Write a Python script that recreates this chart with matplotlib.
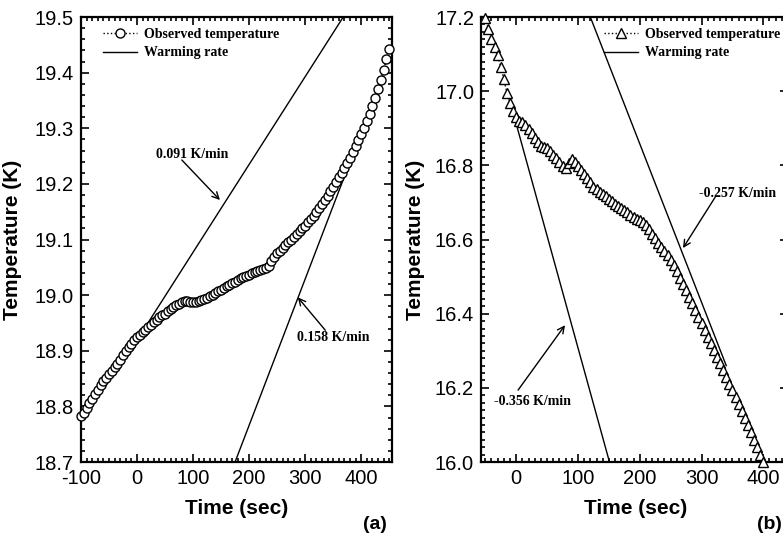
import numpy as np
import matplotlib
matplotlib.use('Agg')
import matplotlib.pyplot as plt
from matplotlib.ticker import MultipleLocator, FormatStrFormatter

plt.rcParams['font.family'] = 'Liberation Sans'
plt.rcParams['axes.unicode_minus'] = False

# ---------------------------------------------------------------------------
# data
# ---------------------------------------------------------------------------
# (a) warming run, one sample every 5 s from -100 s to 450 s
time_a = np.arange(-100, 455, 5)
temp_a = [
    18.782, 18.789, 18.797, 18.806, 18.814, 18.822, 18.830, 18.838, 18.845, 18.851,
    18.858, 18.864, 18.870, 18.877, 18.884, 18.892, 18.900, 18.907, 18.913, 18.919,
    18.924, 18.929, 18.933, 18.938, 18.942, 18.947, 18.951, 18.956, 18.960, 18.964,
    18.967, 18.971, 18.975, 18.979, 18.982, 18.985, 18.988, 18.989, 18.989, 18.988,
    18.987, 18.988, 18.989, 18.991, 18.993, 18.995, 18.998, 19.001, 19.004, 19.007,
    19.010, 19.013, 19.016, 19.018, 19.021, 19.024, 19.027, 19.030, 19.033, 19.035,
    19.037, 19.039, 19.041, 19.043, 19.045, 19.047, 19.049, 19.052, 19.062, 19.069,
    19.075, 19.080, 19.085, 19.090, 19.095, 19.100, 19.105, 19.110, 19.115, 19.120,
    19.125, 19.131, 19.137, 19.143, 19.150, 19.157, 19.164, 19.171, 19.179, 19.187,
    19.195, 19.204, 19.212, 19.220, 19.228, 19.237, 19.247, 19.257, 19.268, 19.279,
    19.290, 19.301, 19.313, 19.326, 19.340, 19.355, 19.370, 19.387, 19.405, 19.424,
    19.443,
]
# rate lines (end points) and their labels
rate_a1_t = [10, 368]
rate_a1_T = [18.935, 19.50]
rate_a2_t = [175, 375]
rate_a2_T = [18.70, 19.226]
label_a1 = '0.091 K/min'
label_a2 = '0.158 K/min'

# (b) cooling run, one sample every 5 s from -50 s to 400 s
time_b = np.arange(-50, 405, 5)
temp_b = [
    17.197, 17.168, 17.142, 17.118, 17.098, 17.065, 17.032, 16.995, 16.968, 16.946,
    16.930, 16.921, 16.916, 16.908, 16.898, 16.887, 16.875, 16.862, 16.853, 16.849,
    16.846, 16.838, 16.828, 16.819, 16.809, 16.798, 16.793, 16.806, 16.817, 16.809,
    16.799, 16.787, 16.776, 16.766, 16.754, 16.743, 16.736, 16.729, 16.723, 16.717,
    16.710, 16.703, 16.697, 16.691, 16.685, 16.679, 16.673, 16.667, 16.661, 16.656,
    16.652, 16.646, 16.638, 16.628, 16.616, 16.604, 16.592, 16.580, 16.569, 16.558,
    16.545, 16.530, 16.514, 16.497, 16.480, 16.463, 16.446, 16.428, 16.410, 16.392,
    16.374, 16.356, 16.338, 16.320, 16.302, 16.284, 16.266, 16.248, 16.230, 16.211,
    16.193, 16.175, 16.157, 16.138, 16.119, 16.100, 16.080, 16.060, 16.040, 16.020,
    16.000,
]
rate_b1_t = [-3, 151]
rate_b1_T = [16.93, 16.00]
rate_b2_t = [120, 340]
rate_b2_T = [17.20, 16.26]
label_b1 = '-0.356 K/min'
label_b2 = '-0.257 K/min'

legend_labels = ['Observed temperature', 'Warming rate']

SERIF = dict(family='Liberation Serif', weight='bold', size=10)
TICK_FS = 14.5
LABEL_FS = 15

fig = plt.figure(figsize=(7.83, 5.36), dpi=100)
ax_a = fig.add_axes([0.1034, 0.138, 0.3972, 0.8302])
ax_b = fig.add_axes([0.6143, 0.138, 0.3921, 0.8302])


def style_axes(ax, xlim, ylim, ymajor):
    ax.set_xlim(*xlim)
    ax.set_ylim(*ylim)
    ax.xaxis.set_major_locator(MultipleLocator(100))
    ax.xaxis.set_minor_locator(MultipleLocator(10))
    ax.yaxis.set_major_locator(MultipleLocator(ymajor))
    ax.yaxis.set_minor_locator(MultipleLocator(0.02))
    ax.yaxis.set_major_formatter(FormatStrFormatter('%.1f'))
    ax.tick_params(which='both', direction='in', top=True, right=True,
                   labelsize=TICK_FS, width=1.2)
    ax.tick_params(which='major', length=6, pad=5)
    ax.tick_params(which='minor', length=3)
    for s in ax.spines.values():
        s.set_linewidth(1.6)
    ax.set_xlabel('Time (sec)', fontsize=LABEL_FS, fontweight='bold')
    ax.set_ylabel('Temperature (K)', fontsize=LABEL_FS, fontweight='bold')


def arrow(ax, text, tail, head, text_xy):
    ax.annotate('', xy=head, xytext=tail,
                arrowprops=dict(arrowstyle='->', color='black', lw=1,
                                mutation_scale=12, shrinkA=0, shrinkB=0))
    ax.text(*text_xy, text, ha='center', va='center', fontdict=SERIF)


def add_legend(ax, handles, x0):
    ax.legend(handles, legend_labels, loc='upper left',
              bbox_to_anchor=(x0, 0.995), frameon=False, prop=SERIF,
              handlelength=2.4, handletextpad=0.55, labelspacing=0.42,
              borderaxespad=0.2, numpoints=1)


# ---------------------------------------------------------------------------
# (a)
# ---------------------------------------------------------------------------
style_axes(ax_a, (-100, 455), (18.7, 19.5), 0.1)
obs_a, = ax_a.plot(time_a, temp_a, ls=':', lw=1, color='black', marker='o',
                   ms=6.5, mfc='white', mec='black', mew=1, clip_on=False, zorder=3)
rate_a, = ax_a.plot(rate_a1_t, rate_a1_T, color='black', lw=1, zorder=2)
ax_a.plot(rate_a2_t, rate_a2_T, color='black', lw=1, zorder=2)
arrow(ax_a, label_a1, (80, 19.243), (148, 19.171), (98, 19.252))
arrow(ax_a, label_a2, (336, 18.937), (287, 18.996), (350, 18.923))
add_legend(ax_a, [obs_a, rate_a], 0.045)
ax_a.yaxis.set_label_coords(-0.19, 0.5)
ax_a.xaxis.set_label_coords(0.5, -0.082)
ax_a.text(0.945, -0.14, '(a)', transform=ax_a.transAxes, ha='center',
          va='center', fontsize=14, fontweight='bold')

# ---------------------------------------------------------------------------
# (b)
# ---------------------------------------------------------------------------
style_axes(ax_b, (-57, 440), (16.0, 17.2), 0.2)
obs_b, = ax_b.plot(time_b, temp_b, ls=':', lw=1, color='black', marker='^',
                   ms=7, mfc='white', mec='black', mew=1, clip_on=False, zorder=3)
rate_b, = ax_b.plot(rate_b1_t, rate_b1_T, color='black', lw=1, zorder=2)
ax_b.plot(rate_b2_t, rate_b2_T, color='black', lw=1, zorder=2)
arrow(ax_b, label_b2, (322, 16.714), (270, 16.577), (358, 16.725))
arrow(ax_b, label_b1, (3, 16.194), (79, 16.369), (27, 16.162))
add_legend(ax_b, [obs_b, rate_b], 0.375)
ax_b.yaxis.set_label_coords(-0.182, 0.5)
ax_b.xaxis.set_label_coords(0.505, -0.082)
ax_b.text(0.94, -0.14, '(b)', transform=ax_b.transAxes, ha='center',
          va='center', fontsize=14, fontweight='bold')

fig.savefig('out.png', dpi=100)
